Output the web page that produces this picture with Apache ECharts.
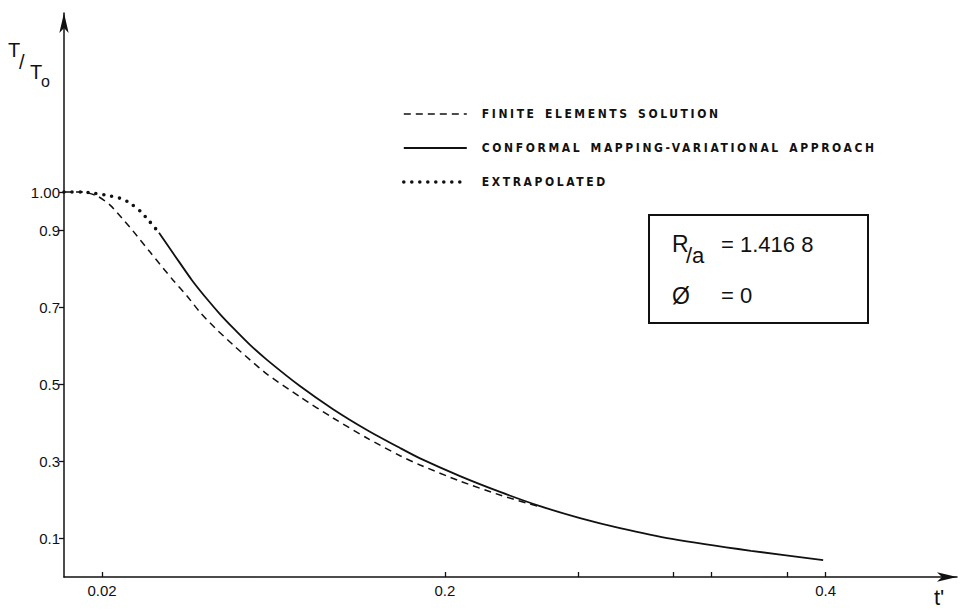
<!DOCTYPE html>
<html>
<head>
<meta charset="utf-8">
<script src="https://cdn.jsdelivr.net/npm/echarts@6/dist/echarts.min.js"></script>
<style>
  html, body { margin: 0; padding: 0; background: #fff; }
  #chart { width: 961px; height: 611px; }
  #chart text[style*="Condensed"] { letter-spacing: 2.6px; word-spacing: 2px; }
</style>
</head>
<body>
<div id="chart"></div>
<script>
// ---- data ----
const seriesNames = ['FINITE ELEMENTS SOLUTION', 'CONFORMAL MAPPING-VARIATIONAL APPROACH', 'EXTRAPOLATED'];

const tFinite = [0.000, 0.0095, 0.0173, 0.0242, 0.0305, 0.0362, 0.0452, 0.0573, 0.0646, 0.0714, 0.0793, 0.0888, 0.0977, 0.1066, 0.1239, 0.1413, 0.1591, 0.1765, 0.1870, 0.2080, 0.2290, 0.2500];
const TFinite = [1.000, 1.000, 0.990, 0.966, 0.932, 0.899, 0.844, 0.771, 0.730, 0.688, 0.647, 0.603, 0.564, 0.527, 0.468, 0.413, 0.361, 0.315, 0.291, 0.249, 0.213, 0.182];

const tConformal = [0.0499, 0.0583, 0.0672, 0.0751, 0.0819, 0.0888, 0.0977, 0.1066, 0.1239, 0.1413, 0.1591, 0.1765, 0.1870, 0.2080, 0.2290, 0.2500, 0.2710, 0.2920, 0.3193, 0.3608, 0.3987];
const TConformal = [0.894, 0.834, 0.771, 0.722, 0.683, 0.647, 0.603, 0.564, 0.496, 0.436, 0.382, 0.335, 0.308, 0.262, 0.221, 0.184, 0.153, 0.127, 0.099, 0.068, 0.044];

const tExtrap = [0.000, 0.0095, 0.0152, 0.0242, 0.0305, 0.0347, 0.0399, 0.0452, 0.0499];
const TExtrap = [1.000, 1.000, 0.997, 0.990, 0.982, 0.971, 0.951, 0.922, 0.894];

const xTickValues = [0.02, 0.2, 0.27, 0.32, 0.34, 0.38, 0.4];
const xLabelValues = [0.02, 0.2, 0.4];
const xLabelTexts = ['0.02', '0.2', '0.4'];
const yLabelValues = [0.1, 0.3, 0.5, 0.7, 0.9, 1.0];
const yLabelTexts = ['0.1', '0.3', '0.5', '0.7', '0.9', '1.00'];

const zip = (a, b) => a.map((v, i) => [v, b[i]]);
const lookup = (vals, texts) => v => {
  const i = vals.findIndex(x => Math.abs(x - v) < 1e-9);
  return i >= 0 ? texts[i] : '';
};

const ink = '#111';
const labelFont = 'Liberation Sans';

const chart = echarts.init(document.getElementById('chart'), null, { renderer: 'svg' });
chart.setOption({
  backgroundColor: '#fff',
  animation: false,
  grid: { left: 64, right: 4, top: 13, bottom: 34, containLabel: false },
  legend: {
    orient: 'vertical',
    left: 397,
    top: 103,
    itemWidth: 63,
    itemHeight: 12,
    itemGap: 22,
    data: seriesNames,
    itemStyle: { opacity: 0 },
    lineStyle: { width: 'inherit' },
    textStyle: {
      fontFamily: 'DejaVu Sans Condensed',
      fontWeight: 'bold',
      fontSize: 12,
      color: ink,
      padding: [0, 0, 0, 10],
      lineHeight: 12
    }
  },
  xAxis: {
    type: 'value',
    min: 0,
    max: 0.469,
    splitLine: { show: false },
    axisLine: { show: true, lineStyle: { color: ink, width: 1.5 }, symbol: ['none', 'arrow'], symbolSize: [7, 20] },
    axisTick: { show: true, inside: true, length: 5, lineStyle: { color: ink, width: 1.3 }, customValues: xTickValues },
    axisLabel: {
      customValues: xLabelValues,
      formatter: lookup(xLabelValues, xLabelTexts),
      fontFamily: labelFont, fontSize: 15, color: ink, margin: 6
    }
  },
  yAxis: {
    type: 'value',
    min: 0,
    max: 1.465,
    splitLine: { show: false },
    axisLine: { show: true, lineStyle: { color: ink, width: 1.5 }, symbol: ['none', 'arrow'], symbolSize: [7, 20] },
    axisTick: { show: true, inside: false, length: 5, lineStyle: { color: ink, width: 1.3 }, customValues: yLabelValues },
    axisLabel: {
      customValues: yLabelValues,
      formatter: lookup(yLabelValues, yLabelTexts),
      fontFamily: labelFont, fontSize: 15, color: ink, margin: 4
    }
  },
  series: [
    {
      name: seriesNames[0], type: 'line', data: zip(tFinite, TFinite),
      smooth: 0.25, symbol: 'none', showSymbol: false,
      lineStyle: { color: ink, width: 1.5, type: [7, 5] }, itemStyle: { color: ink }
    },
    {
      name: seriesNames[1], type: 'line', data: zip(tConformal, TConformal),
      smooth: 0.25, symbol: 'none', showSymbol: false,
      lineStyle: { color: ink, width: 1.8, type: 'solid' }, itemStyle: { color: ink }
    },
    {
      name: seriesNames[2], type: 'line', data: zip(tExtrap, TExtrap),
      smooth: 0.25, symbol: 'none', showSymbol: false,
      lineStyle: { color: ink, width: 3.6, type: [0, 8], cap: 'round' }, itemStyle: { color: ink }
    }
  ],
  graphic: [
    { type: 'rect', shape: { x: 649, y: 215, width: 219, height: 108 }, style: { fill: 'none', stroke: ink, lineWidth: 2 }, z: 10 },
    { type: 'text', x: 672, y: 244, style: { text: 'R', font: '23px "Liberation Sans"', fill: ink, verticalAlign: 'middle' }, z: 10 },
    { type: 'text', x: 686, y: 255, style: { text: '/a', font: '22px "Liberation Sans"', fill: ink, verticalAlign: 'middle' }, z: 10 },
    { type: 'text', x: 721, y: 244, style: { text: '= 1.416 8', font: '22px "Liberation Sans"', fill: ink, verticalAlign: 'middle' }, z: 10 },
    { type: 'text', x: 672, y: 296, style: { text: 'Ø', font: '23px "Liberation Sans"', fill: ink, verticalAlign: 'middle' }, z: 10 },
    { type: 'text', x: 721, y: 295, style: { text: '= 0', font: '22px "Liberation Sans"', fill: ink, verticalAlign: 'middle' }, z: 10 },
    { type: 'text', x: 8, y: 50, style: { text: 'T', font: '20px "Liberation Sans"', fill: ink, verticalAlign: 'middle' }, z: 10 },
    { type: 'text', x: 19, y: 62, style: { text: '/', font: '20px "Liberation Sans"', fill: ink, verticalAlign: 'middle' }, z: 10 },
    { type: 'text', x: 30, y: 72, style: { text: 'T', font: '20px "Liberation Sans"', fill: ink, verticalAlign: 'middle' }, z: 10 },
    { type: 'text', x: 41, y: 81, style: { text: 'o', font: '16px "Liberation Sans"', fill: ink, verticalAlign: 'middle' }, z: 10 },
    { type: 'text', x: 934, y: 597, style: { text: "t'", font: '22px "Liberation Sans"', fill: ink, verticalAlign: 'middle' }, z: 10 }
  ]
});
</script>
</body>
</html>
